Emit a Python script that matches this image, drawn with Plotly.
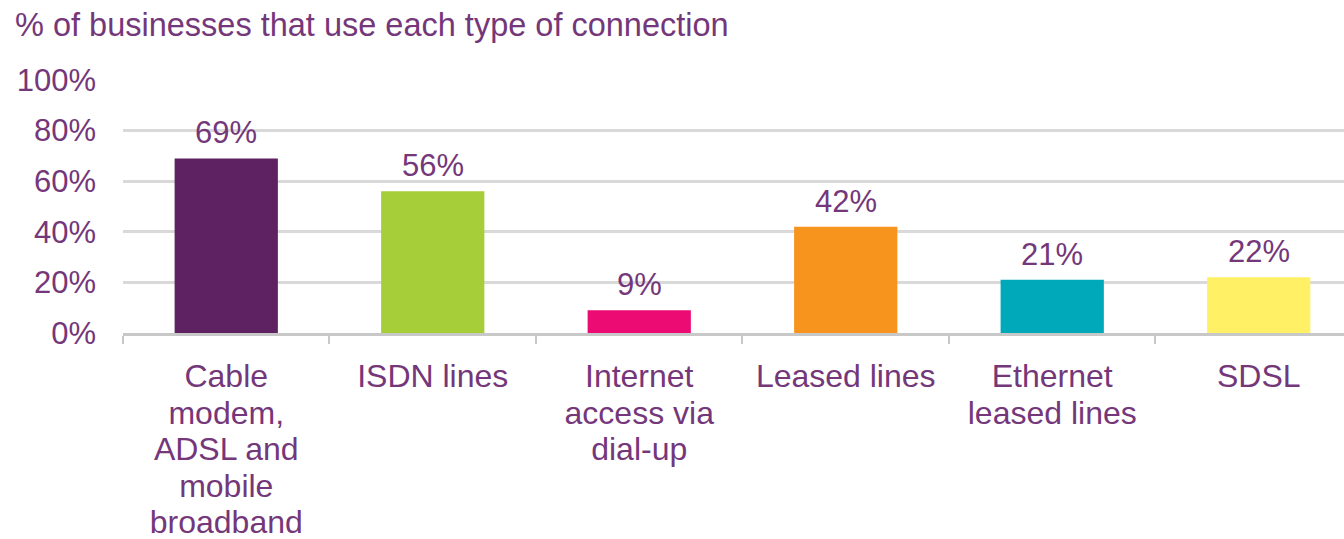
import plotly.graph_objects as go

categories = ["Cable modem, ADSL and mobile broadband", "ISDN lines", "Internet access via dial-up",
              "Leased lines", "Ethernet leased lines", "SDSL"]
tick_labels = ["Cable<br>modem,<br>ADSL and<br>mobile<br>broadband", "ISDN lines",
               "Internet<br>access via<br>dial-up", "Leased lines", "Ethernet<br>leased lines", "SDSL"]
values = [69, 56, 9, 42, 21, 22]
value_labels = ["69%", "56%", "9%", "42%", "21%", "22%"]
bar_colors = ["#5E2161", "#A6CE39", "#EC0B73", "#F7941D", "#00A9BA", "#FFF066"]

TEXT = "#74377A"
FONT = "Liberation Sans, Arial, sans-serif"


def styled(label, size):
    return "<br>".join(f"<span style='font-size:{size}px'>{ln}</span>" for ln in label.split("<br>"))


fig = go.Figure()
fig.add_trace(go.Bar(
    x=categories, y=values, marker=dict(color=bar_colors, line=dict(width=0)),
    width=0.5, hoverinfo="skip", showlegend=False,
))

for c, v, t in zip(categories, values, value_labels):
    fig.add_annotation(x=c, y=v, text=t, showarrow=False, yanchor="bottom", yshift=6,
                       font=dict(family=FONT, size=31, color=TEXT))

fig.update_layout(
    width=1344, height=539,
    margin=dict(l=123, r=0, t=80, b=206),
    paper_bgcolor="white", plot_bgcolor="white",
    bargap=0.5,
    title=dict(text="% of businesses that use each type of connection",
               font=dict(family=FONT, size=32.5, color=TEXT),
               xref="container", yref="container", x=15 / 1344, y=1 - 25 / 539,
               xanchor="left", yanchor="middle"),
)
fig.update_xaxes(
    type="category", categoryorder="array", categoryarray=categories,
    tickvals=categories, ticktext=[styled(t, 32) for t in tick_labels],
    range=[-0.5, 5.413], automargin=False,
    showline=True, linecolor="#C8C8C8", linewidth=2.5,
    ticks="outside", tickson="boundaries", ticklen=8, tickcolor="#C8C8C8", tickwidth=2,
    showgrid=False, tickfont=dict(family=FONT, size=28, color=TEXT),
    ticklabelstandoff=18,
)
fig.update_yaxes(
    range=[0, 100], dtick=20, ticksuffix="%", automargin=False,
    showgrid=True, gridcolor="#D9D9D9", gridwidth=2.5,
    zeroline=False, showline=False,
    tickfont=dict(family=FONT, size=31, color=TEXT),
    ticklabelstandoff=26,
)

fig.write_html("out.html")
